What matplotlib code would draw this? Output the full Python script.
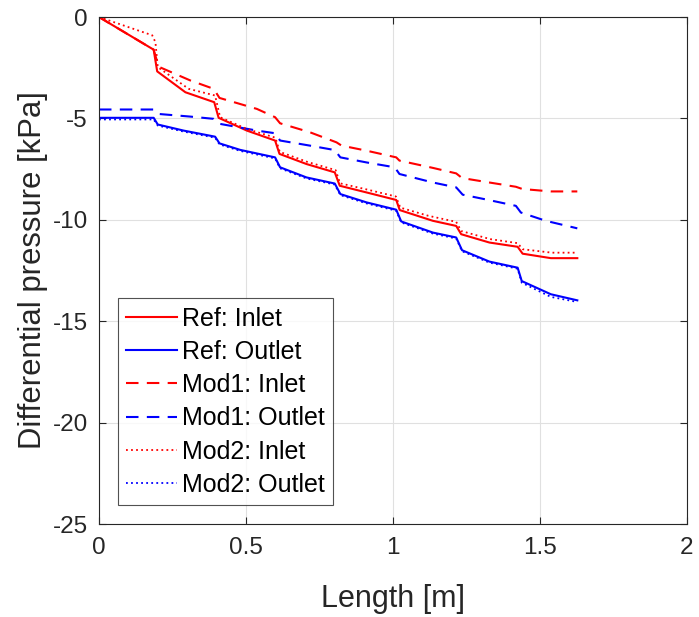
import matplotlib
matplotlib.use("Agg")
import matplotlib.pyplot as plt

plt.rcParams['font.family'] = ['Liberation Sans', 'DejaVu Sans']
plt.rcParams['axes.unicode_minus'] = False

# 読み取った値 (Length [m], Differential pressure [kPa])
ref_in_x = [0, 0.186, 0.198, 0.294, 0.392, 0.407, 0.503, 0.599, 0.614, 0.706, 0.802, 0.819,
            0.91, 1.011, 1.023, 1.136, 1.215, 1.232, 1.328, 1.424, 1.441, 1.537, 1.627]
ref_in_y = [0, -1.61, -2.68, -3.71, -4.20, -4.97, -5.60, -6.09, -6.75, -7.25, -7.66, -8.32,
            -8.65, -9.02, -9.52, -10.05, -10.30, -10.71, -11.12, -11.33, -11.67, -11.89, -11.89]

ref_out_x = [0, 0.186, 0.2, 0.288, 0.395, 0.41, 0.48, 0.599, 0.616, 0.706, 0.802, 0.821,
             0.91, 1.011, 1.028, 1.136, 1.215, 1.235, 1.328, 1.424, 1.438, 1.537, 1.627]
ref_out_y = [-4.97, -4.97, -5.30, -5.60, -5.90, -6.23, -6.55, -6.92, -7.41, -7.91, -8.21, -8.73,
             -9.14, -9.50, -10.08, -10.63, -10.87, -11.50, -12.06, -12.36, -13.02, -13.67, -13.97]

mod1_in_x = [0, 0.186, 0.203, 0.311, 0.39, 0.41, 0.537, 0.599, 0.616, 0.717, 0.808, 0.825,
             0.91, 1.011, 1.022, 1.136, 1.215, 1.235, 1.328, 1.418, 1.44, 1.537, 1.627]
mod1_in_y = [0, -1.61, -2.45, -3.13, -3.54, -3.99, -4.53, -4.94, -5.24, -5.68, -6.18, -6.34,
             -6.59, -6.92, -7.08, -7.44, -7.71, -7.94, -8.16, -8.37, -8.48, -8.60, -8.60]

mod1_out_x = [0, 0.186, 0.203, 0.311, 0.39, 0.412, 0.537, 0.599, 0.616, 0.717, 0.802, 0.821,
              0.91, 1.006, 1.022, 1.136, 1.215, 1.237, 1.328, 1.418, 1.435, 1.52, 1.627]
mod1_out_y = [-4.56, -4.56, -4.78, -4.91, -5.02, -5.27, -5.60, -5.73, -6.09, -6.34, -6.56, -6.92,
              -7.17, -7.41, -7.74, -8.16, -8.40, -8.76, -9.03, -9.31, -9.64, -10.05, -10.42]

mod2_in_x = [0, 0.181, 0.192, 0.2, 0.305, 0.395, 0.412, 0.503, 0.6, 0.615, 0.71, 0.805, 0.82,
             0.91, 1.01, 1.025, 1.12, 1.215, 1.232, 1.33, 1.424, 1.441, 1.54, 1.627]
mod2_in_y = [0, -0.90, -1.24, -2.47, -3.54, -3.87, -4.94, -5.52, -5.95, -6.65, -7.15, -7.55, -8.2,
             -8.5, -8.85, -9.4, -9.8, -10.1, -10.55, -10.95, -11.15, -11.45, -11.62, -11.62]

mod2_out_x = [0, 0.186, 0.2, 0.288, 0.395, 0.41, 0.48, 0.599, 0.616, 0.706, 0.802, 0.821,
              0.91, 1.011, 1.028, 1.136, 1.215, 1.235, 1.328, 1.424, 1.438, 1.537, 1.627]
mod2_out_y = [-5.05, -5.05, -5.35, -5.65, -5.95, -6.28, -6.6, -6.97, -7.46, -7.96, -8.26, -8.78,
              -9.19, -9.55, -10.13, -10.68, -10.92, -11.55, -12.11, -12.41, -13.1, -13.8, -14.05]

RED = '#FF0000'
BLUE = '#0000FF'
TXT = '#262626'

fig = plt.figure(figsize=(6.99, 6.17), dpi=100)
ax = fig.add_axes([0.1416, 0.1507, 0.8412, 0.8217])

lw = 1.5
ax.plot(ref_in_x, ref_in_y, '-', color=RED, lw=lw, label='Ref: Inlet')
ax.plot(ref_out_x, ref_out_y, '-', color=BLUE, lw=lw, label='Ref: Outlet')
ax.plot(mod1_in_x, mod1_in_y, '--', color=RED, lw=lw, dashes=(6, 4), label='Mod1: Inlet')
ax.plot(mod1_out_x, mod1_out_y, '--', color=BLUE, lw=lw, dashes=(6, 4), label='Mod1: Outlet')
ax.plot(mod2_in_x, mod2_in_y, ':', color=RED, lw=1.3, dashes=(1, 1.8), label='Mod2: Inlet')
ax.plot(mod2_out_x, mod2_out_y, ':', color=BLUE, lw=1.3, dashes=(1, 1.8), label='Mod2: Outlet')

ax.set_xlim(0, 2)
ax.set_ylim(-25, 0)
ax.set_xticks([0, 0.5, 1, 1.5, 2])
ax.set_xticklabels(['0', '0.5', '1', '1.5', '2'])
ax.set_yticks([-25, -20, -15, -10, -5, 0])

ax.grid(True, color='#E0E0E0', lw=0.8)
ax.set_axisbelow(True)
for s in ax.spines.values():
    s.set_color(TXT)
    s.set_linewidth(0.8)
ax.tick_params(direction='in', top=True, right=True, length=5, width=0.8,
               colors=TXT, labelsize=17.5)
ax.tick_params(axis='x', pad=9)
ax.tick_params(axis='y', pad=8)

ax.set_xlabel('Length [m]', fontsize=22, color=TXT, labelpad=18)
ax.set_ylabel('Differential pressure [kPa]', fontsize=22.4, color=TXT, labelpad=3)

leg = ax.legend(loc='lower left', bbox_to_anchor=(0.032, 0.0375), fontsize=18,
                frameon=True, fancybox=False, edgecolor=TXT, handlelength=2.05,
                borderpad=0.33, labelspacing=0.37, handletextpad=0.2, borderaxespad=0)
leg.get_frame().set_linewidth(0.8)

fig.savefig('out.png', dpi=100)
